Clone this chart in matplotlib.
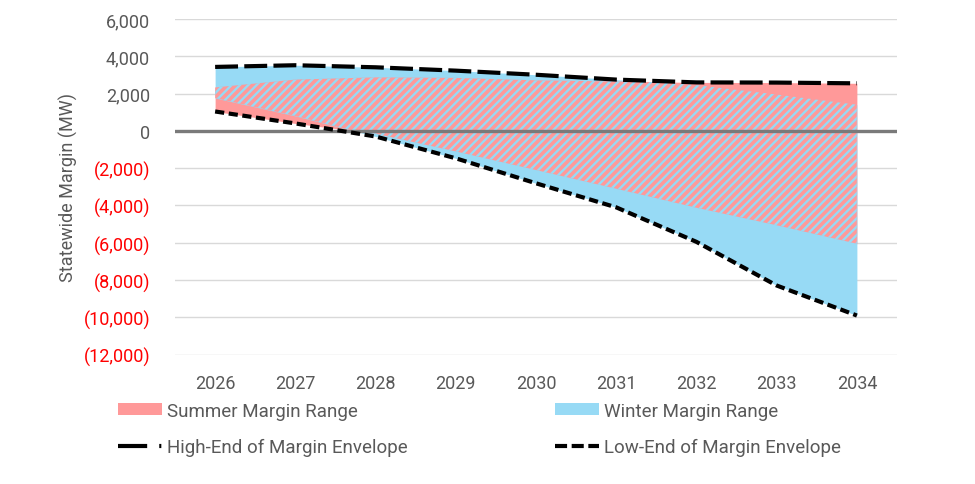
import numpy as np
import matplotlib
matplotlib.use("Agg")
import matplotlib.pyplot as plt
from matplotlib.patches import Patch
from matplotlib.lines import Line2D

plt.rcParams['font.family'] = ['Roboto', 'DejaVu Sans']
plt.rcParams['hatch.linewidth'] = 1.7

# 데이터 (MW)
years = [2026, 2027, 2028, 2029, 2030, 2031, 2032, 2033, 2034]
summer_high = [2330, 2750, 2870, 2840, 2710, 2650, 2600, 2590, 2550]
summer_low = [1040, 400, -150, -1100, -2100, -3100, -4120, -5060, -6050]
winter_high = [3430, 3520, 3410, 3230, 3010, 2750, 2450, 1950, 1400]
winter_low = [1760, 800, -300, -1470, -2810, -4100, -5950, -8290, -9900]
y_ticks = [6000, 4000, 2000, 0, -2000, -4000, -6000, -8000, -10000, -12000]

pink = "#FF9999"
blue = "#97DAF5"
gray_txt = "#595959"

high_env = np.maximum(summer_high, winter_high)
low_env = np.minimum(summer_low, winter_low)

fig = plt.figure(figsize=(9.75, 4.85), dpi=100)
ax = fig.add_axes([0.1795, 0.2666, 0.7405, 0.6922])

# 영역
ax.fill_between(years, summer_low, summer_high, color=pink, linewidth=0, zorder=2)
winter = ax.fill_between(years, winter_low, winter_high, color=blue, linewidth=0, zorder=3)
# 겹치는 부분: 분홍 바탕에 파란 빗금
overlap = ax.fill_between(years, summer_low, summer_high, facecolor=pink,
                          edgecolor=blue, hatch="////", linewidth=0, zorder=4)
overlap.set_clip_path(winter.get_paths()[0], transform=ax.transData)

ax.axhline(0, color="#7a7a7a", linewidth=2.4, zorder=5)

ax.plot(years, high_env, color="black", linewidth=3, dashes=(5.5, 1.5), zorder=6)
ax.plot(years, low_env, color="black", linewidth=3, dashes=(2.2, 1.1), zorder=6)

ax.set_xlim(2025.5, 2034.5)
ax.set_ylim(-12000, 6000)
ax.set_xticks(years)
ax.set_xticklabels([str(y) for y in years], fontsize=13, color=gray_txt)
ax.set_yticks(y_ticks)
labels = []
for v in y_ticks:
    labels.append(f"({abs(v):,})" if v < 0 else f"{v:,}")
ax.set_yticklabels(labels, fontsize=13)
for lab, v in zip(ax.get_yticklabels(), y_ticks):
    lab.set_color("#FF0000" if v < 0 else gray_txt)
ax.tick_params(axis="y", length=0, pad=18)
ax.tick_params(axis="x", length=0, pad=14)
ax.grid(axis="y", color="#d9d9d9", linewidth=1, zorder=0)
ax.set_axisbelow(True)
for s in ax.spines.values():
    s.set_visible(False)
ax.set_ylabel("Statewide Margin (MW)", fontsize=13, color=gray_txt, labelpad=4)

# 범례 (두 열)
left_handles = [
    Patch(facecolor=pink, label="Summer Margin Range"),
    Line2D([], [], color="black", linewidth=3, dashes=(7, 2.9, 0.5, 3),
           label="High-End of Margin Envelope"),
]
right_handles = [
    Patch(facecolor=blue, label="Winter Margin Range"),
    Line2D([], [], color="black", linewidth=3, dashes=(2.9, 1.1),
           label="Low-End of Margin Envelope"),
]
for hs, x0 in [(left_handles, 118 / 975), (right_handles, 555 / 975)]:
    leg = fig.legend(handles=hs, loc="upper left", bbox_to_anchor=(x0, 0.169),
                     frameon=False, fontsize=13.5, borderpad=0, borderaxespad=0,
                     handlelength=2.35, handleheight=0.6, handletextpad=0.27,
                     labelspacing=0.96)
    for t in leg.get_texts():
        t.set_color(gray_txt)

fig.savefig("out.png", dpi=100)
